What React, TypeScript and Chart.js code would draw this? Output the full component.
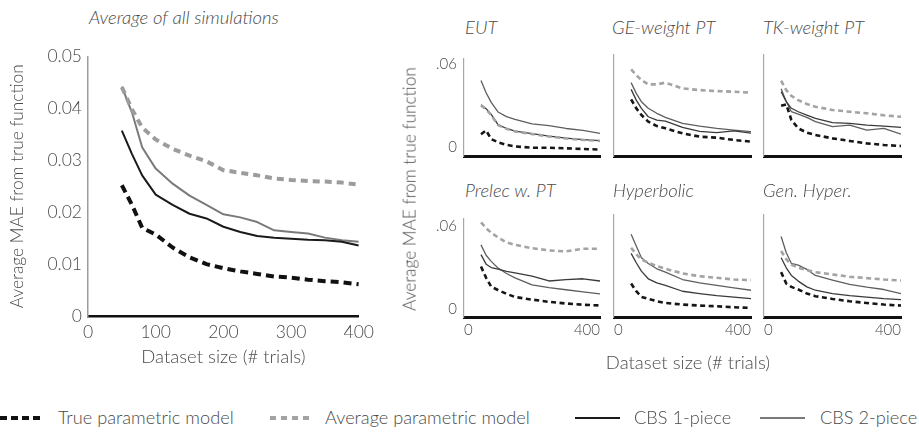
import React, { useEffect, useRef } from "react";
import { Chart, registerables } from "chart.js";

Chart.register(...registerables);

const FONT = "Lato, 'Open Sans', 'DejaVu Sans', sans-serif";
const TEXT = "#4a4a4a";

// ---------- Main panel data ----------
const mainX = [50, 65, 80, 100, 125, 150, 175, 200, 225, 250, 275, 300, 325, 350, 375, 400];
const mainTrue = [0.0252, 0.0214, 0.017, 0.0157, 0.0132, 0.0113, 0.01, 0.0092, 0.0086, 0.0081, 0.0076, 0.0074, 0.007, 0.0067, 0.0065, 0.0061];
const mainAvg = [0.0441, 0.0398, 0.0363, 0.034, 0.0322, 0.0309, 0.0298, 0.0281, 0.0276, 0.0271, 0.0265, 0.0262, 0.026, 0.0259, 0.0257, 0.0253];
const mainCbs1 = [0.0357, 0.0312, 0.0271, 0.0234, 0.0214, 0.0197, 0.0188, 0.0172, 0.0162, 0.0154, 0.0151, 0.0149, 0.0147, 0.0146, 0.0143, 0.0136];
const mainCbs2 = [0.0442, 0.0392, 0.0325, 0.0284, 0.0255, 0.0232, 0.0214, 0.0196, 0.019, 0.0181, 0.0165, 0.0162, 0.0159, 0.0151, 0.0146, 0.0143];
const mainXTicks = [0, 100, 200, 300, 400];
const mainYTicks = [0, 0.01, 0.02, 0.03, 0.04, 0.05];

// ---------- Small panels data ----------
const smallX = [50, 65, 80, 100, 125, 150, 200, 250, 300, 350, 400];
const smallYTicks = [0, 0.06];
const smallXTicks = [0, 400];

const eutTrue = [0.0158, 0.0186, 0.0123, 0.01, 0.0081, 0.007, 0.006, 0.006, 0.0056, 0.0051, 0.0047];
const eutAvg = [0.0368, 0.034, 0.0298, 0.0225, 0.0198, 0.0179, 0.016, 0.0142, 0.0128, 0.0117, 0.011];
const eutCbs1 = [0.0372, 0.0344, 0.0302, 0.0228, 0.02, 0.0181, 0.0163, 0.0144, 0.013, 0.0119, 0.0112];
const eutCbs2 = [0.0549, 0.046, 0.039, 0.032, 0.0286, 0.0267, 0.0233, 0.0221, 0.02, 0.0186, 0.0165];

const geTrue = [0.0395, 0.0333, 0.0286, 0.024, 0.0209, 0.0193, 0.0158, 0.0135, 0.0128, 0.0112, 0.01];
const geAvg = [0.0605, 0.0565, 0.053, 0.05, 0.05, 0.0512, 0.0472, 0.046, 0.0453, 0.0449, 0.0442];
const geCbs1 = [0.0465, 0.039, 0.0333, 0.0274, 0.0251, 0.0244, 0.02, 0.0172, 0.0163, 0.0176, 0.016];
const geCbs2 = [0.0512, 0.0437, 0.0379, 0.0333, 0.0298, 0.027, 0.0228, 0.0209, 0.0193, 0.0181, 0.017];

const tkTrue = [0.035, 0.036, 0.0251, 0.0193, 0.0163, 0.0147, 0.0123, 0.0105, 0.0088, 0.0077, 0.007];
const tkAvg = [0.0526, 0.046, 0.0419, 0.039, 0.0363, 0.0344, 0.0321, 0.0309, 0.0298, 0.0284, 0.0274];
const tkCbs1 = [0.0449, 0.0379, 0.0333, 0.0309, 0.0286, 0.0263, 0.0233, 0.0228, 0.0216, 0.0209, 0.02];
const tkCbs2 = [0.047, 0.038, 0.0309, 0.0293, 0.027, 0.024, 0.0205, 0.0216, 0.0181, 0.0193, 0.0153];

const prTrue = [0.0363, 0.0282, 0.0218, 0.0194, 0.0167, 0.0144, 0.0125, 0.0109, 0.0097, 0.0088, 0.0083];
const prAvg = [0.068, 0.064, 0.0606, 0.0572, 0.0537, 0.0519, 0.0495, 0.0479, 0.0472, 0.0491, 0.0491];
const prCbs1 = [0.0449, 0.038, 0.0356, 0.0345, 0.0329, 0.0317, 0.0294, 0.0259, 0.0269, 0.0275, 0.0259];
const prCbs2 = [0.0519, 0.0444, 0.04, 0.0352, 0.0313, 0.0282, 0.0231, 0.0211, 0.0196, 0.0181, 0.0167];

const hyTrue = [0.0231, 0.0178, 0.0139, 0.0125, 0.0109, 0.0097, 0.0086, 0.0079, 0.0074, 0.0067, 0.0063];
const hyAvg = [0.0479, 0.0433, 0.0398, 0.0375, 0.0352, 0.0333, 0.0301, 0.0282, 0.0271, 0.0259, 0.0255];
const hyCbs1 = [0.044, 0.0375, 0.0317, 0.0264, 0.0236, 0.0218, 0.0178, 0.0162, 0.0148, 0.0137, 0.0127];
const hyCbs2 = [0.0572, 0.0491, 0.041, 0.037, 0.0333, 0.031, 0.0259, 0.0236, 0.0218, 0.0201, 0.0185];

const ghTrue = [0.031, 0.0231, 0.0208, 0.019, 0.0162, 0.0144, 0.0125, 0.0109, 0.0097, 0.0086, 0.0079];
const ghAvg = [0.0456, 0.0398, 0.0363, 0.034, 0.0324, 0.031, 0.0294, 0.0278, 0.0269, 0.0259, 0.0252];
const ghCbs1 = [0.041, 0.034, 0.0287, 0.0248, 0.0208, 0.0185, 0.0162, 0.0148, 0.0137, 0.0127, 0.012];
const ghCbs2 = [0.0556, 0.0444, 0.037, 0.0359, 0.0329, 0.0287, 0.0255, 0.0225, 0.0206, 0.019, 0.0162];

const seriesNames = ["True parametric model", "Average parametric model", "CBS 1-piece", "CBS 2-piece"];

const panels = [
  { title: "EUT", t: eutTrue, a: eutAvg, c1: eutCbs1, c2: eutCbs2 },
  { title: "GE-weight PT", t: geTrue, a: geAvg, c1: geCbs1, c2: geCbs2 },
  { title: "TK-weight PT", t: tkTrue, a: tkAvg, c1: tkCbs1, c2: tkCbs2 },
  { title: "Prelec w. PT", t: prTrue, a: prAvg, c1: prCbs1, c2: prCbs2 },
  { title: "Hyperbolic", t: hyTrue, a: hyAvg, c1: hyCbs1, c2: hyCbs2 },
  { title: "Gen. Hyper.", t: ghTrue, a: ghAvg, c1: ghCbs1, c2: ghCbs2 },
];

function lineDs(label: string, xs: number[], ys: number[], color: string, width: number, dash?: number[]) {
  return {
    label,
    data: xs.map((x, i) => ({ x, y: ys[i] })),
    borderColor: color,
    backgroundColor: color,
    borderWidth: width,
    borderDash: dash || [],
    borderCapStyle: "butt" as const,
    borderJoinStyle: "round" as const,
    pointRadius: 0,
    tension: 0,
    fill: false,
  };
}

function ChartCanvas({ left, top, width, height, makeConfig }: any) {
  const ref = useRef<HTMLCanvasElement | null>(null);
  useEffect(() => {
    const chart = new Chart(ref.current as HTMLCanvasElement, makeConfig());
    return () => chart.destroy();
  }, []);
  return (
    <canvas
      ref={ref}
      width={width}
      height={height}
      style={{ position: "absolute", left, top, width, height }}
    />
  );
}

const tickFont = (size: number) => ({ family: FONT, size, weight: "300" as any });

function mainConfig(): any {
  return {
    type: "line",
    data: {
      datasets: [
        lineDs(seriesNames[0], mainX, mainTrue, "#111111", 4, [8, 5]),
        lineDs(seriesNames[1], mainX, mainAvg, "#9c9c9c", 4, [7, 5]),
        lineDs(seriesNames[2], mainX, mainCbs1, "#1a1a1a", 2),
        lineDs(seriesNames[3], mainX, mainCbs2, "#7a7a7a", 2),
      ],
    },
    options: {
      responsive: false,
      animation: false,
      devicePixelRatio: 1,
      layout: { padding: { left: 0, top: 13, right: 17, bottom: 0 } },
      plugins: { legend: { display: false }, tooltip: { enabled: false } },
      scales: {
        x: {
          type: "linear",
          min: 0,
          max: 400,
          afterBuildTicks: (s: any) => {
            s.ticks = mainXTicks.map((v) => ({ value: v }));
          },
          ticks: { color: TEXT, font: tickFont(17.5), padding: 6, maxRotation: 0 },
          grid: { display: false, drawTicks: false },
          border: { color: "#111111", width: 2.5 },
          title: {
            display: true,
            text: "Dataset size (# trials)",
            color: TEXT,
            font: tickFont(18.5),
            padding: { top: 0, bottom: 12 },
          },
          afterFit: (s: any) => {
            s.height = 64;
          },
        },
        y: {
          min: 0,
          max: 0.05,
          afterBuildTicks: (s: any) => {
            s.ticks = mainYTicks.map((v) => ({ value: v }));
          },
          ticks: {
            color: TEXT,
            font: tickFont(17.5),
            padding: 6,
            callback: (v: any) => (Number(v) === 0 ? "0" : Number(v).toFixed(2)),
          },
          grid: { display: false, drawTicks: false },
          border: { color: "#9c9c9c", width: 1.5 },
          title: {
            display: true,
            text: "Average MAE from true function",
            color: TEXT,
            font: tickFont(17.3),
            padding: { top: 7, bottom: 0 },
          },
          afterFit: (s: any) => {
            s.width = 88;
          },
        },
      },
    },
  };
}

const colLeft = [464, 614, 764];
const colRight = [600, 751, 901];
const rowTop = [55, 215];
const rowBottom = [156, 317];
const rowLabelOffset = [-9, -7.5];

function smallGeom(idx: number) {
  const col = idx % 3;
  const row = Math.floor(idx / 3);
  const yw = col === 0 ? 44 : 10;
  const padT = 12;
  const padR = 14;
  const xh = row === 1 ? 26 : 16;
  const left = colLeft[col] - yw;
  const top = rowTop[row] - padT;
  const width = colRight[col] - left + padR;
  const height = rowBottom[row] - rowTop[row] + padT + xh;
  return { col, row, yw, padT, padR, xh, left, top, width, height };
}

function smallConfig(idx: number): any {
  const p = panels[idx];
  const g = smallGeom(idx);
  return {
    type: "line",
    data: {
      datasets: [
        lineDs(seriesNames[0], smallX, p.t, "#161616", 2.6, [5, 3.5]),
        lineDs(seriesNames[1], smallX, p.a, "#a3a3a3", 2.6, [5, 3.5]),
        lineDs(seriesNames[2], smallX, p.c1, "#3a3a3a", 1.3),
        lineDs(seriesNames[3], smallX, p.c2, "#5e5e5e", 1.3),
      ],
    },
    options: {
      responsive: false,
      animation: false,
      devicePixelRatio: 1,
      layout: { padding: { left: 0, top: g.padT, right: g.padR, bottom: 0 } },
      plugins: { legend: { display: false }, tooltip: { enabled: false } },
      scales: {
        x: {
          type: "linear",
          min: 0,
          max: 400,
          afterBuildTicks: (s: any) => {
            s.ticks = smallXTicks.map((v) => ({ value: v }));
          },
          ticks: {
            display: g.row === 1,
            color: TEXT,
            font: tickFont(15),
            padding: 4,
            align: "inner",
            maxRotation: 0,
          },
          grid: { display: false, drawTicks: false },
          border: { color: "#111111", width: 3 },
          afterFit: (s: any) => {
            s.height = g.xh;
          },
        },
        y: {
          min: 0,
          max: 0.0705,
          afterBuildTicks: (s: any) => {
            s.ticks = smallYTicks.map((v) => ({ value: v }));
          },
          ticks: {
            display: g.col === 0,
            color: TEXT,
            font: tickFont(15),
            padding: 7,
            labelOffset: rowLabelOffset[g.row],
            callback: (v: any) => (Number(v) === 0 ? "0" : ".06"),
          },
          grid: { display: false, drawTicks: false },
          border: { color: "#a8a8a8", width: 1.2 },
          afterFit: (s: any) => {
            s.width = g.yw;
          },
        },
      },
    },
  };
}

const textBase: React.CSSProperties = {
  position: "absolute",
  fontFamily: FONT,
  fontWeight: 300,
  color: TEXT,
  whiteSpace: "nowrap",
  lineHeight: 1.2,
};

function Label({ x, cy, size, italic, children }: any) {
  return (
    <div
      style={{
        ...textBase,
        left: x,
        top: cy,
        fontSize: size,
        fontStyle: italic ? "italic" : "normal",
        transform: "translateY(-50%)",
      }}
    >
      {children}
    </div>
  );
}

const smallTitlePos = [
  [465, 26.5],
  [612, 26.5],
  [763, 26.5],
  [465, 190],
  [613, 190],
  [763, 190],
];

function LegendSwatch({ x, cy, w, color, thick, dash, gap }: any) {
  const bg = dash
    ? `repeating-linear-gradient(to right, ${color} 0px, ${color} ${dash}px, transparent ${dash}px, transparent ${dash + gap}px)`
    : color;
  return (
    <div
      style={{
        position: "absolute",
        left: x,
        top: cy - thick / 2,
        width: w,
        height: thick,
        background: bg,
      }}
    />
  );
}

export default function App() {
  return (
    <div
      style={{
        position: "absolute",
        left: 0,
        top: 0,
        width: 919,
        height: 433,
        background: "#ffffff",
        overflow: "hidden",
      }}
    >
      <Label x={89} cy={17} size={18.5} italic>
        Average of all simulations
      </Label>
      <ChartCanvas left={0} top={40} width={380} height={340} makeConfig={mainConfig} />

      {panels.map((p, i) => {
        const g = smallGeom(i);
        return (
          <React.Fragment key={p.title}>
            <Label x={smallTitlePos[i][0]} cy={smallTitlePos[i][1]} size={18.5} italic>
              {p.title}
            </Label>
            <ChartCanvas
              left={g.left}
              top={g.top}
              width={g.width}
              height={g.height}
              makeConfig={() => smallConfig(i)}
            />
          </React.Fragment>
        );
      })}

      <div
        style={{
          ...textBase,
          left: 410,
          top: 189,
          fontSize: 17.3,
          transform: "translate(-50%, -50%) rotate(-90deg)",
        }}
      >
        Average MAE from true function
      </div>
      <div
        style={{
          ...textBase,
          left: 688,
          top: 362,
          fontSize: 18.5,
          transform: "translate(-50%, -50%)",
        }}
      >
        Dataset size (# trials)
      </div>

      <LegendSwatch x={0} cy={418} w={43} color="#111111" thick={4} dash={7} gap={4} />
      <Label x={58} cy={418} size={18.2}>
        {seriesNames[0]}
      </Label>
      <LegendSwatch x={270} cy={418} w={42} color="#a3a3a3" thick={3.5} dash={6} gap={5} />
      <Label x={325} cy={418} size={18.2}>
        {seriesNames[1]}
      </Label>
      <LegendSwatch x={575} cy={418} w={45} color="#1a1a1a" thick={2} />
      <Label x={634} cy={418} size={18.2}>
        {seriesNames[2]}
      </Label>
      <LegendSwatch x={760} cy={418} w={45} color="#7a7a7a" thick={2} />
      <Label x={820} cy={418} size={18.2}>
        {seriesNames[3]}
      </Label>
    </div>
  );
}
